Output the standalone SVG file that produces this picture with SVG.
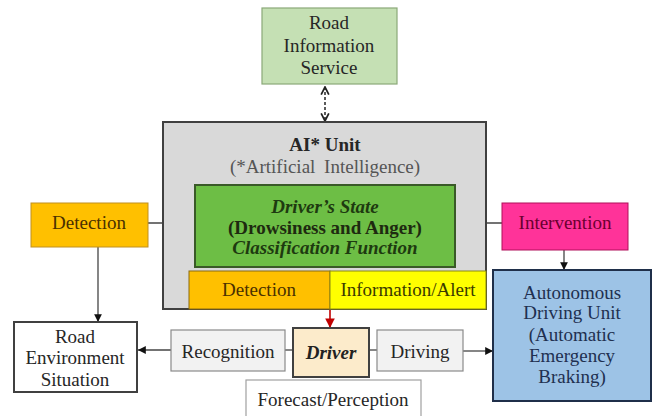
<svg xmlns="http://www.w3.org/2000/svg" width="652" height="416" viewBox="0 0 652 416">
<defs>
<marker id="tri" viewBox="0 0 10 10" refX="10" refY="5" markerWidth="6" markerHeight="6" orient="auto-start-reverse"><path d="M0,0 L10,5 L0,10 z" fill="#111"/></marker>
<marker id="triRed" viewBox="0 0 10 10" refX="10" refY="5" markerWidth="6" markerHeight="6" orient="auto-start-reverse"><path d="M0,0 L10,5 L0,10 z" fill="#c00000"/></marker>
<marker id="open" viewBox="0 0 10 10" refX="9" refY="5" markerWidth="6" markerHeight="7" orient="auto-start-reverse"><path d="M1,1 L9,5 L1,9" fill="none" stroke="#222" stroke-width="1.8"/></marker>
<style>
text{font-size:19px;text-anchor:middle;fill:#262626}
.b{font-weight:bold}
.bi{font-weight:bold;font-style:italic}
.ln{fill:none;stroke:#444;stroke-width:1.3}
</style>
</defs>
<g font-family="'Liberation Serif', 'Times New Roman', serif">
<g id="connectors">
<line x1="325" y1="87" x2="325" y2="121" fill="none" stroke="#333" stroke-width="1.6" stroke-dasharray="3,2" marker-start="url(#open)" marker-end="url(#open)"/>
<line x1="148" y1="223" x2="195" y2="223" class="ln"/>
<line x1="455" y1="223" x2="502" y2="223" class="ln"/>
<line x1="98" y1="247" x2="98" y2="322" class="ln" marker-end="url(#tri)"/>
<line x1="564" y1="250" x2="564" y2="270" class="ln" marker-end="url(#tri)"/>
<line x1="171" y1="350" x2="138" y2="350" class="ln" marker-end="url(#tri)"/>
<line x1="463" y1="351" x2="493" y2="351" class="ln" marker-end="url(#tri)"/>
<line x1="285" y1="350" x2="293" y2="350" class="ln"/>
<line x1="369" y1="350" x2="377" y2="350" class="ln"/>
<line x1="330" y1="309" x2="330" y2="328" stroke="#c00000" stroke-width="1.6" marker-end="url(#triRed)"/>
</g>
<g id="road-info">
<rect x="262" y="8" width="135" height="76" fill="#C5E0B4" stroke="#8aa878" stroke-width="1.2"/>
<text x="329" y="29">Road</text>
<text x="329" y="52">Information</text>
<text x="329" y="74">Service</text>
</g>
<g id="ai-unit">
<rect x="163" y="122" width="323" height="187" fill="#D9D9D9" stroke="#404040" stroke-width="2"/>
<text x="325" y="151" class="b">AI* Unit</text>
<text x="325" y="173" style="fill:#555;word-spacing:4px">(*Artificial Intelligence)</text>
</g>
<g id="classification">
<rect x="195" y="185" width="260" height="82" fill="#6DBE45" stroke="#3a5a28" stroke-width="2"/>
<text x="325" y="213" class="bi" style="fill:#1e3a10">Driver’s State</text>
<text x="325" y="234" class="b" style="fill:#1e2a10">(Drowsiness and Anger)</text>
<text x="325" y="254" class="bi" style="fill:#1e3a10">Classification Function</text>
</g>
<g id="detection-inner">
<rect x="189" y="271" width="141" height="38" fill="#FFC000" stroke="#8a6a10" stroke-width="1"/>
<text x="259" y="296" style="fill:#4a3000">Detection</text>
</g>
<g id="info-alert">
<rect x="330" y="271" width="156" height="38" fill="#FFFF00" stroke="#8a8a10" stroke-width="1"/>
<text x="408" y="296" style="fill:#3a3a00">Information/Alert</text>
</g>
<g id="detection-left">
<rect x="31" y="203" width="117" height="44" fill="#FFC000" stroke="#c09020" stroke-width="1"/>
<text x="89" y="229" style="fill:#4a3000">Detection</text>
</g>
<g id="intervention">
<rect x="502" y="203" width="126" height="47" fill="#FF3399" stroke="#b0105a" stroke-width="1"/>
<text x="565" y="229" style="fill:#6a0030">Intervention</text>
</g>
<g id="autonomous">
<rect x="493" y="270" width="158" height="131" fill="#9DC3E6" stroke="#1f2f4a" stroke-width="2"/>
<text x="572" y="299" style="fill:#1f3050">Autonomous</text>
<text x="572" y="319" style="fill:#1f3050">Driving Unit</text>
<text x="572" y="341" style="fill:#1f3050">(Automatic</text>
<text x="572" y="362" style="fill:#1f3050">Emergency</text>
<text x="572" y="383" style="fill:#1f3050">Braking)</text>
</g>
<g id="road-env">
<rect x="14" y="322" width="123" height="70" fill="#fff" stroke="#404040" stroke-width="2"/>
<text x="75" y="343">Road</text>
<text x="75" y="364">Environment</text>
<text x="75" y="386">Situation</text>
</g>
<g id="recognition">
<rect x="171" y="330" width="114" height="41" fill="#F2F2F2" stroke="#8a8a8a" stroke-width="1.2"/>
<text x="228" y="358">Recognition</text>
</g>
<g id="driver">
<rect x="293" y="328" width="76" height="49" fill="#FCEBCB" stroke="#404040" stroke-width="2"/>
<text x="331" y="359" class="bi" style="fill:#222">Driver</text>
</g>
<g id="driving">
<rect x="377" y="330" width="86" height="41" fill="#F2F2F2" stroke="#8a8a8a" stroke-width="1.2"/>
<text x="420" y="358">Driving</text>
</g>
<g id="forecast">
<rect x="246" y="380" width="175" height="40" fill="#fff" stroke="#a0a0a0" stroke-width="1.2"/>
<text x="333" y="406">Forecast/Perception</text>
</g>
</g>
</svg>
